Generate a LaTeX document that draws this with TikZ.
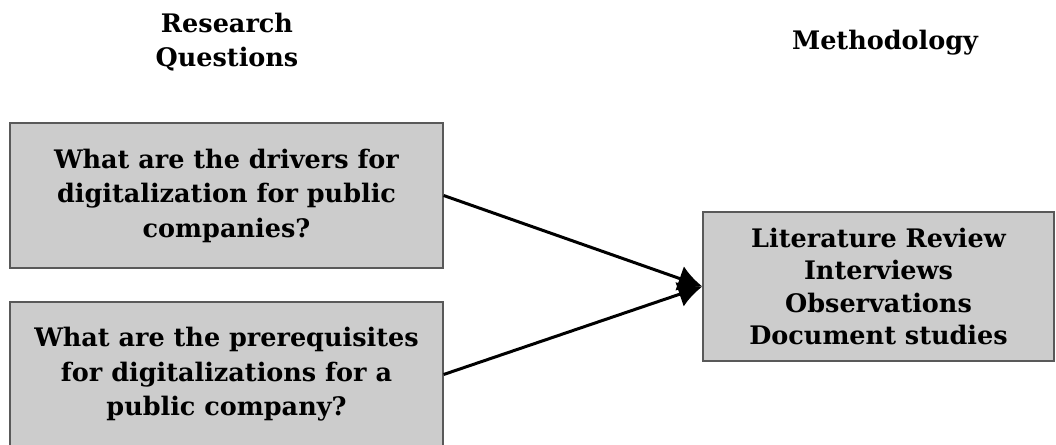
\documentclass[tikz,border=0pt]{standalone}
\usepackage{fontspec}
\setmainfont{DejaVu Serif}
\usetikzlibrary{arrows.meta}
\usetikzlibrary{positioning}

\begin{document}
\begin{tikzpicture}[
      >={Latex[length=24pt, width=26pt]},
      x = 1pt, y = 1pt,
      every node/.style = {
        font = \fontsize{25.5}{34.5}\selectfont\bfseries,
        align = center
      },
      box/.style = {
        rectangle, draw = black!65, line width = 1.3pt,
        fill = black!20, inner sep = 0pt
      },
      question/.style = { box, minimum width = 433pt, minimum height = 145pt },
      method/.style = {
        box, minimum width = 351pt, minimum height = 149pt,
        font = \fontsize{25.5}{32.5}\selectfont\bfseries
      },
      link/.style = { ->, line width = 3pt, black },
    ]

    \useasboundingbox (0,0) rectangle (1056,444);

    % column titles
    \node (rq) at (227,402) {Research\\Questions};
    \node (mt) at (885,401) {Methodology};

    % boxes
    \node[question] (Q1) at (226.5,248.5) {What are the drivers for\\digitalization for public\\companies?};
    \node[question] (Q2) at (226.5,69.5) {What are the prerequisites\\for digitalizations for a\\public company?};
    \node[method] (M) at (878.5,157.5) {Literature Review\\Interviews\\Observations\\Document studies};

    \draw[link] (Q1.east) to (M.west);
    \draw[link] (Q2.east) to (M.west);
  \end{tikzpicture}
\end{document}
